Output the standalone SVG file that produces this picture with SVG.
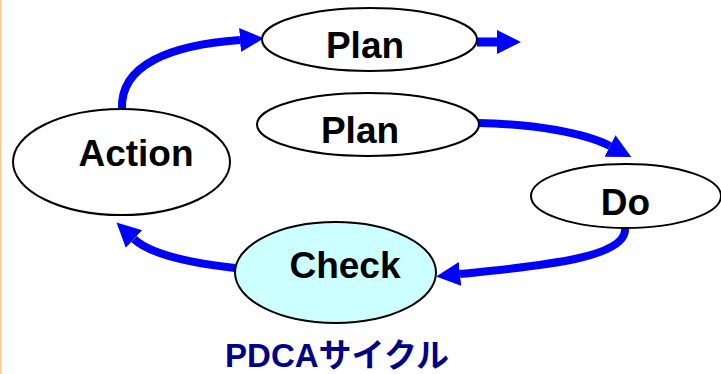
<svg xmlns="http://www.w3.org/2000/svg" width="721" height="374" viewBox="0 0 721 374">
<style>
.node ellipse{stroke:#000;stroke-width:2;fill:#fff}
.node text{font-family:"Liberation Sans",Arial,sans-serif;font-weight:bold;font-size:37px;fill:#000;text-anchor:middle}
.conn path{fill:none;stroke:#0000FF;stroke-width:8}
.title{font-family:"Liberation Sans","Noto Sans CJK JP",sans-serif;font-weight:bold;font-size:33px;fill:#000088;text-anchor:middle}
</style>
<defs>
<marker id="ah" markerUnits="userSpaceOnUse" markerWidth="26" markerHeight="26" viewBox="0 -13 26 26" refX="0" refY="0" orient="auto">
<path d="M0,-12 L24,0 L0,12 z" fill="#0000FF"/>
</marker>
</defs>
<rect x="0" y="0" width="721" height="374" fill="#fff"/>
<rect x="0" y="0" width="1.5" height="374" fill="#FFC890"/>
<g class="conn">
<path d="M122,109 C120,65 170,45 240,40" marker-end="url(#ah)"/>
<path d="M477,42 L497,42" style="stroke-width:9" marker-end="url(#ah)"/>
<path d="M478,123 C535,124 585,133 610,146" marker-end="url(#ah)"/>
<path d="M625,228 C628,258 540,266 460,274" marker-end="url(#ah)"/>
<path d="M235,268 C190,263 150,254 134,239" marker-end="url(#ah)"/>
</g>
<g id="plan-top" class="node">
<ellipse cx="369.5" cy="39.5" rx="107.5" ry="31.5"/>
<text x="365" y="58">Plan</text>
</g>
<g id="plan" class="node">
<ellipse cx="368" cy="124.5" rx="111" ry="31.5"/>
<text x="360" y="143">Plan</text>
</g>
<g id="action" class="node">
<ellipse cx="121.5" cy="162" rx="108.5" ry="53"/>
<text x="136" y="166">Action</text>
</g>
<g id="do" class="node">
<ellipse cx="626" cy="196" rx="95" ry="32"/>
<text x="625.5" y="215">Do</text>
</g>
<g id="check" class="node">
<ellipse cx="335.5" cy="272.5" rx="100.5" ry="50.5" style="fill:#CCFFFF"/>
<text x="345" y="278">Check</text>
</g>
<text class="title" x="337" y="367">PDCAサイクル</text>
</svg>
